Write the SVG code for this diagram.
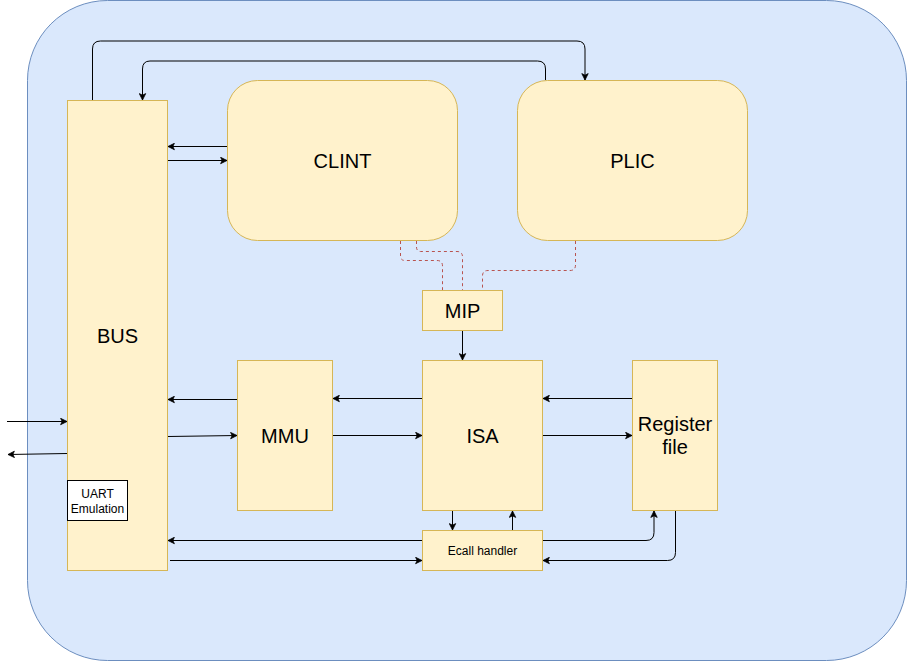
<svg xmlns="http://www.w3.org/2000/svg" width="908" height="661" viewBox="0 0 908 661">
<style>
.n{fill:#fff2cc;stroke:#d6b656;stroke-width:1}
.t{font-family:"Liberation Sans",Arial,sans-serif;fill:#000;text-anchor:middle;dominant-baseline:central}
.c{fill:none;stroke:#000;stroke-width:1}
.d{fill:none;stroke:#b85450;stroke-width:1;stroke-dasharray:3 3}
</style>
<defs>
<marker id="a" viewBox="0 0 10 10" refX="9" refY="5" markerWidth="8" markerHeight="8" markerUnits="userSpaceOnUse" orient="auto">
<path d="M1,1 L9,5 L1,9 L3,5 Z" fill="#000" stroke="#000"/>
</marker>
</defs>
<rect x="27.5" y="0.5" width="879" height="660" rx="80" ry="80" fill="#dae8fc" stroke="#6c8ebf"/>
<g id="BUS"><rect class="n" x="67.5" y="100.5" width="100" height="470"/><text class="t" x="117.5" y="336" font-size="20">BUS</text></g>
<g id="UART"><rect x="67.5" y="480.5" width="60" height="40" fill="#fff" stroke="#000"/><text class="t" x="97.5" y="493.5" font-size="12">UART</text><text class="t" x="97.5" y="508.5" font-size="12">Emulation</text></g>
<g id="CLINT"><rect class="n" x="227.5" y="80.5" width="230" height="160" rx="30"/><text class="t" x="342.5" y="160.5" font-size="20">CLINT</text></g>
<g id="PLIC"><rect class="n" x="517.5" y="80.5" width="230" height="160" rx="30"/><text class="t" x="632.5" y="160.5" font-size="20">PLIC</text></g>
<g id="MIP"><rect class="n" x="422.5" y="290.5" width="80" height="40"/><text class="t" x="462.5" y="310.5" font-size="20">MIP</text></g>
<g id="MMU"><rect class="n" x="237.5" y="360.5" width="95" height="150"/><text class="t" x="285" y="435.5" font-size="20">MMU</text></g>
<g id="ISA"><rect class="n" x="422.5" y="360.5" width="120" height="150"/><text class="t" x="482.5" y="435.5" font-size="20">ISA</text></g>
<g id="RegisterFile"><rect class="n" x="632.5" y="360.5" width="85" height="150"/><text class="t" x="675" y="424" font-size="20">Register</text><text class="t" x="675" y="447" font-size="20">file</text></g>
<g id="Ecall"><rect class="n" x="422.5" y="530.5" width="120" height="40"/><text class="t" x="482.5" y="550.5" font-size="12">Ecall handler</text></g>
<g id="connectors">
<path class="c" d="M92.5,100 V49 Q92.5,41 100.5,41 H577 Q585,41 585,49 V80" marker-end="url(#a)"/>
<path class="c" d="M545.5,80 V69 Q545.5,61 537.5,61 H150 Q142.5,61 142.5,69 V100" marker-end="url(#a)"/>
<path class="c" d="M227,146.5 H168" marker-end="url(#a)"/>
<path class="c" d="M168,160.5 H227" marker-end="url(#a)"/>
<path class="c" d="M7,421.5 H67" marker-end="url(#a)"/>
<path class="c" d="M67,453.5 L8,454.5" marker-end="url(#a)"/>
<path class="c" d="M237,399.5 H168" marker-end="url(#a)"/>
<path class="c" d="M168,436.5 L237,435.5" marker-end="url(#a)"/>
<path class="c" d="M422,398.5 H333" marker-end="url(#a)"/>
<path class="c" d="M333,435.5 H422" marker-end="url(#a)"/>
<path class="c" d="M632,398.5 H543" marker-end="url(#a)"/>
<path class="c" d="M543,435.5 H632" marker-end="url(#a)"/>
<path class="c" d="M462.5,331 V360" marker-end="url(#a)"/>
<path class="c" d="M452.5,511 V530" marker-end="url(#a)"/>
<path class="c" d="M512.5,530 V511" marker-end="url(#a)"/>
<path class="c" d="M422,540.5 H168" marker-end="url(#a)"/>
<path class="c" d="M170,560.5 H422" marker-end="url(#a)"/>
<path class="c" d="M543,540.5 H646 Q654,540.5 654,532.5 V511" marker-end="url(#a)"/>
<path class="c" d="M675.5,511 V552.5 Q675.5,560.5 667.5,560.5 H543" marker-end="url(#a)"/>
<path class="d" d="M400.5,241 V256 Q400.5,260.5 405,260.5 H437 Q442.5,260.5 442.5,266 V290"/>
<path class="d" d="M416.5,241 V247 Q416.5,251.5 421,251.5 H457 Q462.5,251.5 462.5,257 V290"/>
<path class="d" d="M575.5,241 V265 Q575.5,270.5 570,270.5 H488 Q482.5,270.5 482.5,276 V290"/>
</g>
</svg>
